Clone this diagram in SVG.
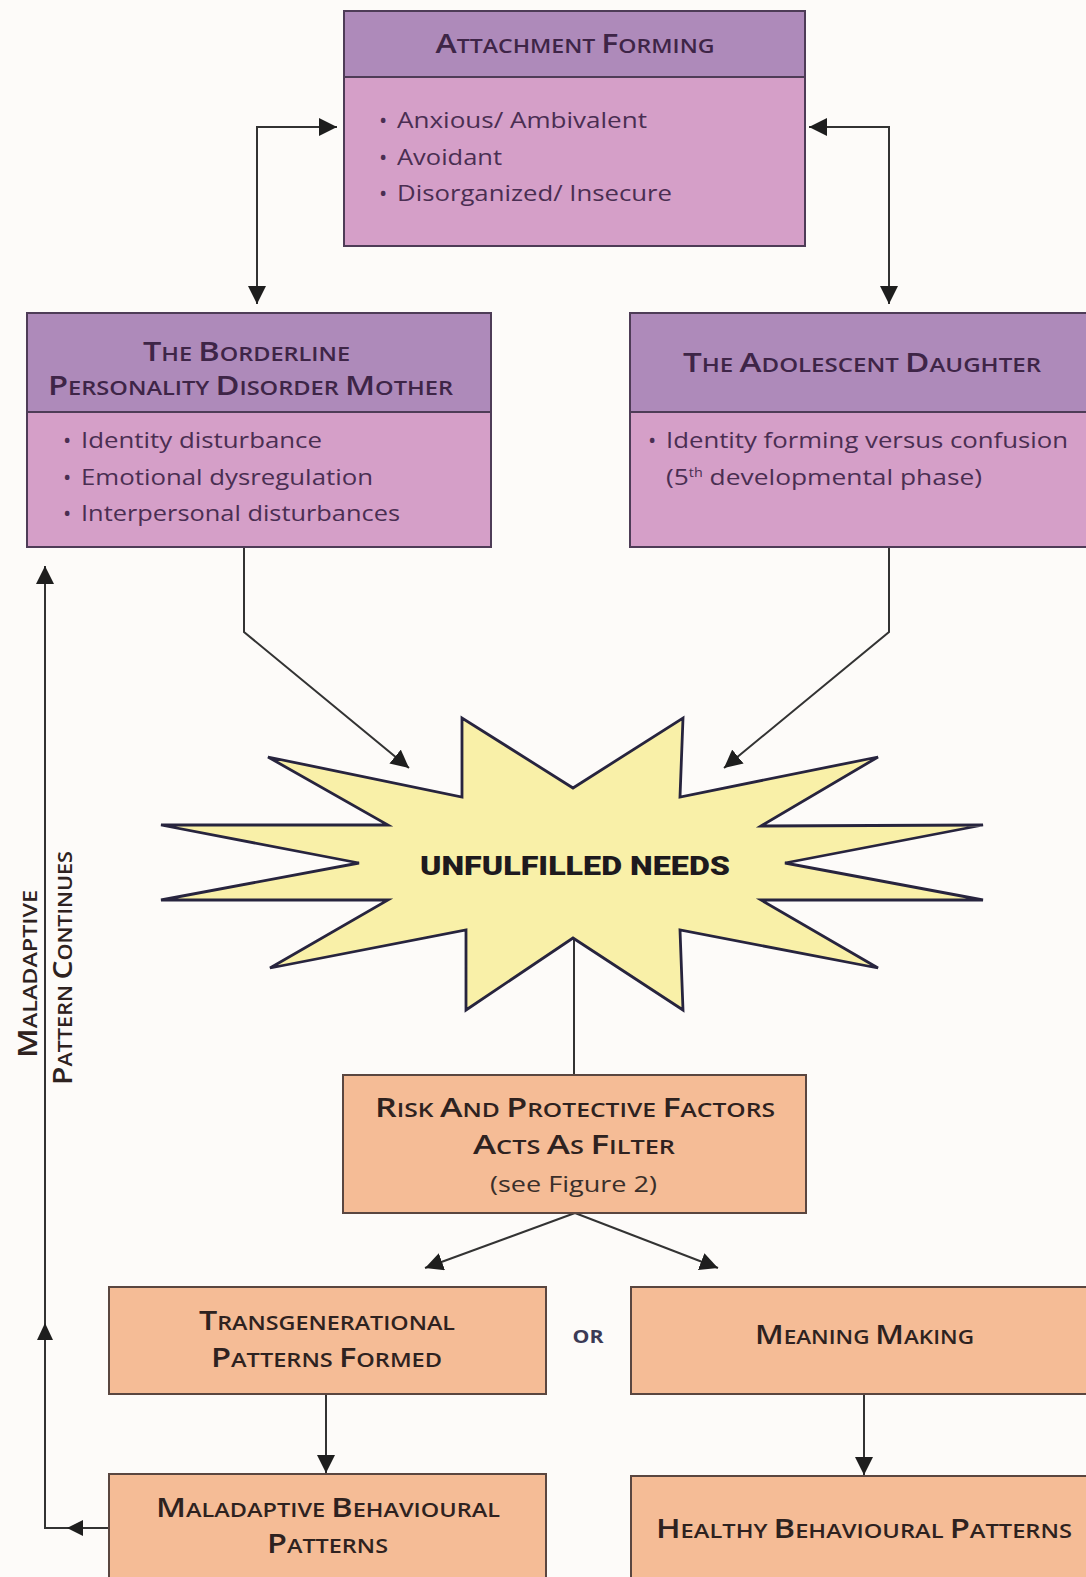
<svg xmlns="http://www.w3.org/2000/svg" width="1086" height="1577" viewBox="0 0 1086 1577">
<style>
.bg{fill:#FDFBF9}
.hdr{fill:#AE8ABA;stroke:#4E3C57;stroke-width:2}
.bdy{fill:#D59FC8;stroke:#4E3C57;stroke-width:2}
.org{fill:#F5BC96;stroke:#5A4640;stroke-width:2}
.star{fill:#F9F0A8;stroke:#27243E;stroke-width:2.8;stroke-linejoin:miter}
.t{font-family:"Open Sans","Liberation Sans",sans-serif;font-weight:600;font-size:19.5px;text-anchor:middle}
.t .c{font-size:27px}
.tp{fill:#3E2547}
.to{fill:#2E2220}
.b{font-family:"Open Sans","Liberation Sans",sans-serif;font-size:22px;fill:#4A2E52}
.sub{font-family:"Open Sans","Liberation Sans",sans-serif;font-size:21px;fill:#3A2F2A;text-anchor:middle}
.big{font-family:Roboto,"Liberation Sans",sans-serif;font-weight:900;font-size:26px;fill:#1E1A1E;text-anchor:middle}
.or{font-family:"Open Sans","Liberation Sans",sans-serif;font-weight:700;font-size:18px;fill:#3B3A55;text-anchor:middle}
.ln{fill:none;stroke:#333;stroke-width:2}
.ah{fill:#1E1E1E}
</style>
<defs>
<marker id="arr" markerUnits="userSpaceOnUse" markerWidth="18" markerHeight="18" viewBox="0 0 16 16" refX="16" refY="8" orient="auto-start-reverse">
<path d="M0,0 L16,8 L0,16 z" fill="#1E1E1E"/>
</marker>
</defs>
<rect class="bg" x="0" y="0" width="1086" height="1577"/>

<g id="connectors">
<path class="ln" d="M257,304 V127 H337" marker-start="url(#arr)" marker-end="url(#arr)"/>
<path class="ln" d="M809,127 H889 V304" marker-start="url(#arr)" marker-end="url(#arr)"/>
<path class="ln" d="M244,547 V632 L409,768" marker-end="url(#arr)"/>
<path class="ln" d="M889,547 V632 L724,768" marker-end="url(#arr)"/>
<path class="ln" d="M574,938 V1075"/>
<path class="ln" d="M575,1213 L425,1268" marker-end="url(#arr)"/>
<path class="ln" d="M575,1213 L718,1268" marker-end="url(#arr)"/>
<path class="ln" d="M326,1394 V1473" marker-end="url(#arr)"/>
<path class="ln" d="M864,1394 V1475" marker-end="url(#arr)"/>
<path class="ln" d="M109,1528 H45 V566" marker-end="url(#arr)"/>
<polygon class="ah" points="67,1528 83,1520 83,1536"/>
<polygon class="ah" points="45,1323 37,1340 53,1340"/>
</g>

<g id="attachment">
<rect class="bdy" x="344" y="11" width="461" height="235"/>
<rect class="hdr" x="344" y="11" width="461" height="66"/>
<text class="t tp" x="575" y="53" textLength="279" lengthAdjust="spacingAndGlyphs"><tspan class="c">A</tspan>TTACHMENT <tspan class="c">F</tspan>ORMING</text>
<text class="b" x="379" y="128">•</text>
<text class="b" x="397" y="128" textLength="250" lengthAdjust="spacingAndGlyphs">Anxious/ Ambivalent</text>
<text class="b" x="379" y="165">•</text>
<text class="b" x="397" y="165" textLength="105" lengthAdjust="spacingAndGlyphs">Avoidant</text>
<text class="b" x="379" y="201">•</text>
<text class="b" x="397" y="201" textLength="275" lengthAdjust="spacingAndGlyphs">Disorganized/ Insecure</text>
</g>

<g id="mother">
<rect class="bdy" x="27" y="313" width="464" height="234"/>
<rect class="hdr" x="27" y="313" width="464" height="99"/>
<text class="t tp" x="246.5" y="361" textLength="207" lengthAdjust="spacingAndGlyphs"><tspan class="c">T</tspan>HE <tspan class="c">B</tspan>ORDERLINE</text>
<text class="t tp" x="250.5" y="395" textLength="405" lengthAdjust="spacingAndGlyphs"><tspan class="c">P</tspan>ERSONALITY <tspan class="c">D</tspan>ISORDER <tspan class="c">M</tspan>OTHER</text>
<text class="b" x="63" y="448">•</text>
<text class="b" x="81" y="448" textLength="241" lengthAdjust="spacingAndGlyphs">Identity disturbance</text>
<text class="b" x="63" y="485">•</text>
<text class="b" x="81" y="485" textLength="292" lengthAdjust="spacingAndGlyphs">Emotional dysregulation</text>
<text class="b" x="63" y="521">•</text>
<text class="b" x="81" y="521" textLength="319" lengthAdjust="spacingAndGlyphs">Interpersonal disturbances</text>
</g>

<g id="daughter">
<rect class="bdy" x="630" y="313" width="470" height="234"/>
<rect class="hdr" x="630" y="313" width="470" height="99"/>
<text class="t tp" x="862" y="372" textLength="358" lengthAdjust="spacingAndGlyphs"><tspan class="c">T</tspan>HE <tspan class="c">A</tspan>DOLESCENT <tspan class="c">D</tspan>AUGHTER</text>
<text class="b" x="648" y="448">•</text>
<text class="b" x="666" y="448" textLength="402" lengthAdjust="spacingAndGlyphs">Identity forming versus confusion</text>
<text class="b" x="666" y="485" textLength="316" lengthAdjust="spacingAndGlyphs">(5<tspan font-size="12" dy="-8">th</tspan><tspan dy="8"> developmental phase)</tspan></text>
</g>

<g id="unfulfilled">
<polygon class="star" points="161,825 388,825 268,757 462,797 462,718 573,788 683,718 680,797 878,757 761,826 983,825 785,863 983,900 761,900 878,968 680,930 683,1010 573,938 466,1010 466,930 270,968 388,900 161,900 359,863"/>
<text class="big" x="575" y="875" textLength="310" lengthAdjust="spacingAndGlyphs">UNFULFILLED NEEDS</text>
</g>

<g id="risk">
<rect class="org" x="343" y="1075" width="463" height="138"/>
<text class="t to" x="575" y="1117" textLength="400" lengthAdjust="spacingAndGlyphs"><tspan class="c">R</tspan>ISK <tspan class="c">A</tspan>ND <tspan class="c">P</tspan>ROTECTIVE <tspan class="c">F</tspan>ACTORS</text>
<text class="t to" x="574" y="1154" textLength="202" lengthAdjust="spacingAndGlyphs"><tspan class="c">A</tspan>CTS <tspan class="c">A</tspan>S <tspan class="c">F</tspan>ILTER</text>
<text class="sub" x="573.5" y="1192" textLength="167" lengthAdjust="spacingAndGlyphs">(see Figure 2)</text>
</g>

<g id="transgenerational">
<rect class="org" x="109" y="1287" width="437" height="107"/>
<text class="t to" x="327" y="1330" textLength="256" lengthAdjust="spacingAndGlyphs"><tspan class="c">T</tspan>RANSGENERATIONAL</text>
<text class="t to" x="326.5" y="1367" textLength="231" lengthAdjust="spacingAndGlyphs"><tspan class="c">P</tspan>ATTERNS <tspan class="c">F</tspan>ORMED</text>
</g>

<g id="or-label">
<text class="or" x="588" y="1343" textLength="31" lengthAdjust="spacingAndGlyphs">OR</text>
</g>

<g id="meaning">
<rect class="org" x="631" y="1287" width="470" height="107"/>
<text class="t to" x="864.5" y="1344" textLength="219" lengthAdjust="spacingAndGlyphs"><tspan class="c">M</tspan>EANING <tspan class="c">M</tspan>AKING</text>
</g>

<g id="maladaptive">
<rect class="org" x="109" y="1474" width="437" height="120"/>
<text class="t to" x="328" y="1517" textLength="344" lengthAdjust="spacingAndGlyphs"><tspan class="c">M</tspan>ALADAPTIVE <tspan class="c">B</tspan>EHAVIOURAL</text>
<text class="t to" x="327.5" y="1553" textLength="121" lengthAdjust="spacingAndGlyphs"><tspan class="c">P</tspan>ATTERNS</text>
</g>

<g id="healthy">
<rect class="org" x="631" y="1476" width="470" height="120"/>
<text class="t to" x="864" y="1538" textLength="416" lengthAdjust="spacingAndGlyphs"><tspan class="c">H</tspan>EALTHY <tspan class="c">B</tspan>EHAVIOURAL <tspan class="c">P</tspan>ATTERNS</text>
</g>

<g id="side-label">
<text class="t to" transform="translate(37,974) rotate(-90)" textLength="168" lengthAdjust="spacingAndGlyphs"><tspan class="c">M</tspan>ALADAPTIVE</text>
<text class="t to" transform="translate(72,968) rotate(-90)" textLength="234" lengthAdjust="spacingAndGlyphs"><tspan class="c">P</tspan>ATTERN <tspan class="c">C</tspan>ONTINUES</text>
</g>
</svg>
